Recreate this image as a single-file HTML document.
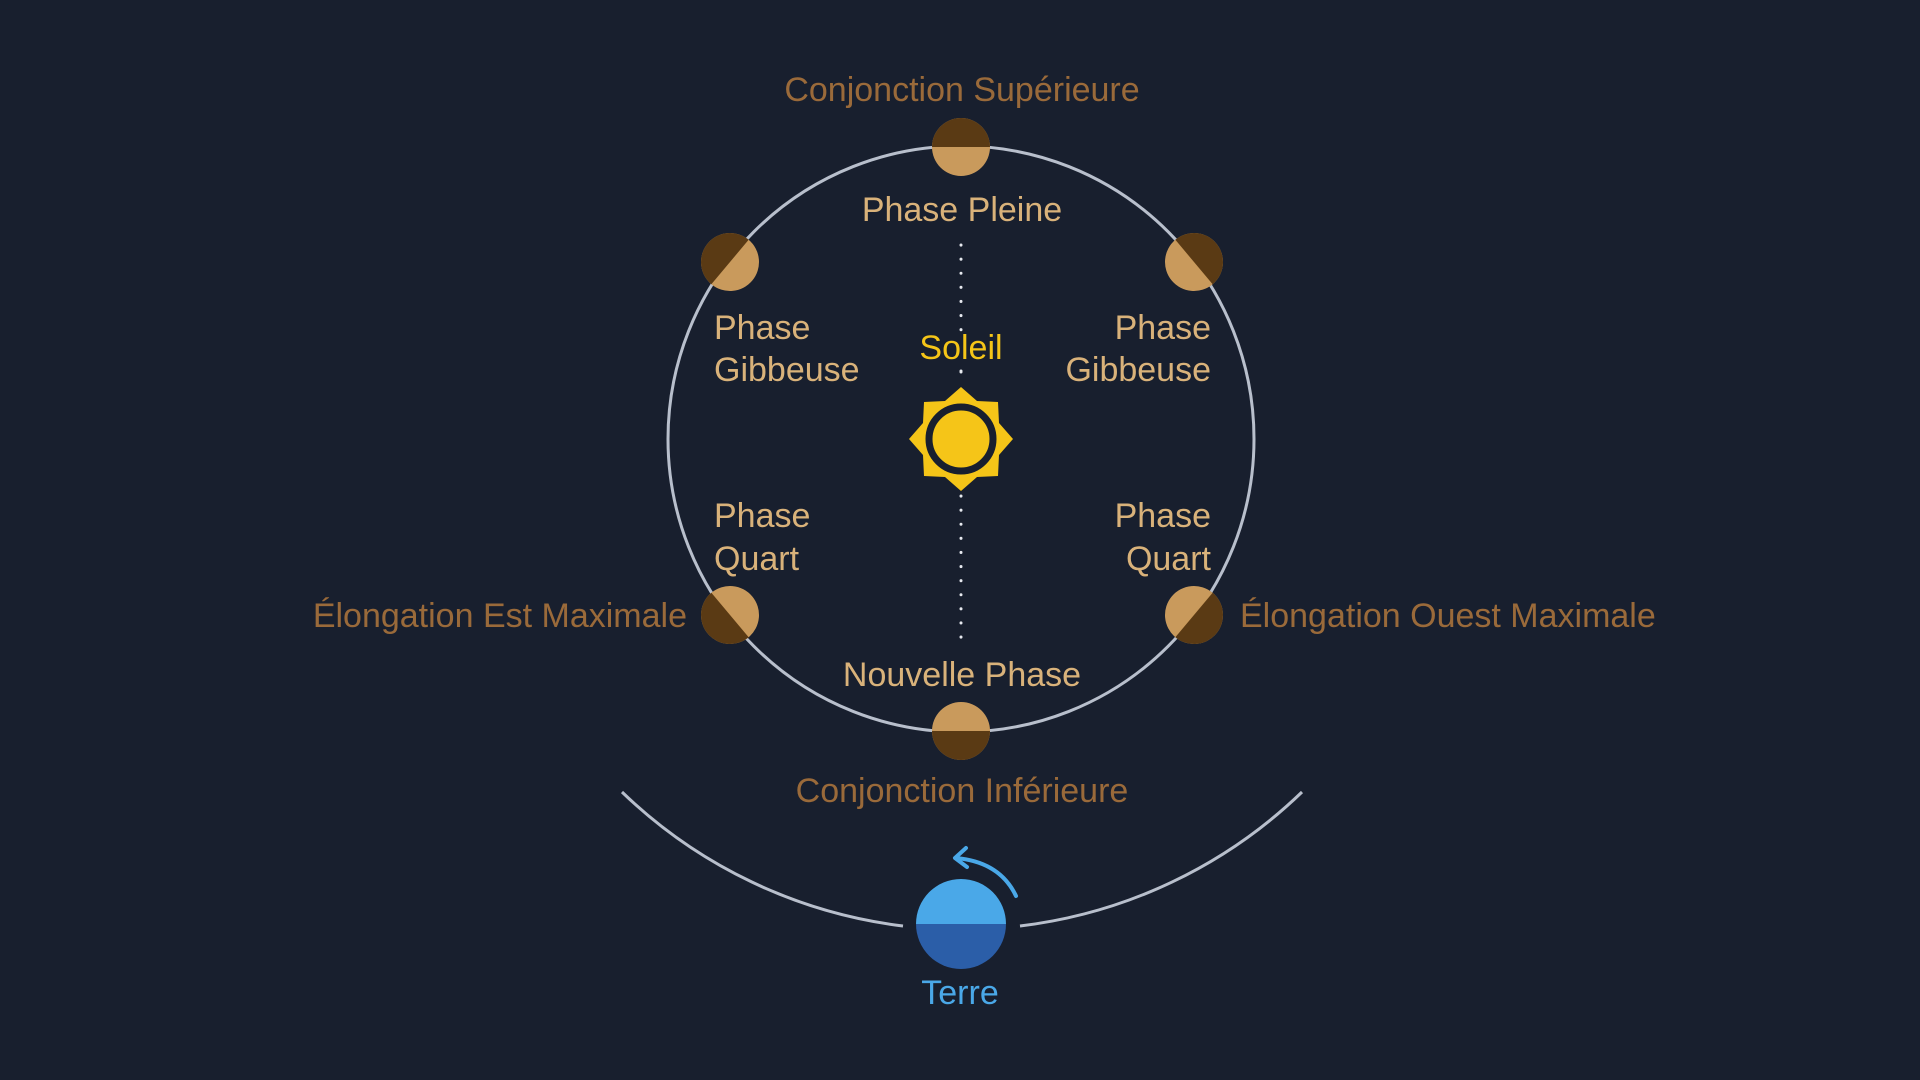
<!DOCTYPE html>
<html><head><meta charset="utf-8"><style>
html,body{margin:0;padding:0;background:#181f2e;}
svg{display:block}
text{font-family:"Liberation Sans",sans-serif;}
</style></head><body>
<svg width="1920" height="1080" viewBox="0 0 1920 1080" xmlns="http://www.w3.org/2000/svg">
<rect width="1920" height="1080" fill="#181f2e"/>
<defs>
<g id="moon"><circle r="29" fill="#c99a5c"/><path d="M-29,0 A29,29 0 0 1 29,0 Z" fill="#5a3a14"/></g>
</defs>
<circle cx="961" cy="439" r="293" fill="none" stroke="#b8bfcc" stroke-width="3"/>
<path d="M622,792 A490,490 0 0 0 903,926" fill="none" stroke="#b8bfcc" stroke-width="3"/>
<path d="M1020,926 A490,490 0 0 0 1302,792" fill="none" stroke="#b8bfcc" stroke-width="3"/>
<line x1="961" y1="245" x2="961" y2="330" stroke="#e6e9ef" stroke-width="3" stroke-dasharray="0.1 14" stroke-linecap="round"/>
<line x1="961" y1="371" x2="961" y2="372" stroke="#e6e9ef" stroke-width="3" stroke-linecap="round"/>
<line x1="961" y1="496" x2="961" y2="645" stroke="#e6e9ef" stroke-width="3" stroke-dasharray="0.1 14" stroke-linecap="round"/>
<use href="#moon" transform="translate(961,147) rotate(0)"/>
<use href="#moon" transform="translate(730,262) rotate(-50)"/>
<use href="#moon" transform="translate(1194,262) rotate(50)"/>
<use href="#moon" transform="translate(730,615) rotate(-130)"/>
<use href="#moon" transform="translate(1194,615) rotate(130)"/>
<use href="#moon" transform="translate(961,731) rotate(180)"/>
<g transform="translate(961,439)">
<polygon fill="#f5c518" points="0,-52 16,-38 37,-37 38,-16 52,0 38,16 37,37 16,38 0,52 -16,38 -37,37 -38,16 -52,0 -38,-16 -37,-37 -16,-38"/>
<circle r="33" fill="#f5c518"/>
<circle r="32" fill="none" stroke="#181f2e" stroke-width="7"/>
</g>
<g transform="translate(961,924)">
<path d="M-45,0 A45,45 0 0 1 45,0 Z" fill="#4aa8e8"/>
<path d="M-45,0 A45,45 0 0 0 45,0 Z" fill="#2b5ea8"/>
</g>
<path d="M1016,896 Q1000,862 956,858" fill="none" stroke="#4aa8e8" stroke-width="4" stroke-linecap="round"/>
<path d="M966,848 L955,858 L967,867" fill="none" stroke="#4aa8e8" stroke-width="4" stroke-linecap="round" stroke-linejoin="round"/>
<g font-size="34" fill="#9a6a3a">
<text x="962" y="101" text-anchor="middle">Conjonction Supérieure</text>
<text x="962" y="802" text-anchor="middle">Conjonction Inférieure</text>
<text x="687" y="627" text-anchor="end">Élongation Est Maximale</text>
<text x="1240" y="627">Élongation Ouest Maximale</text>
</g>
<g font-size="34" fill="#d9b27a">
<text x="962" y="221" text-anchor="middle">Phase Pleine</text>
<text x="962" y="686" text-anchor="middle">Nouvelle Phase</text>
<text x="714" y="339">Phase</text>
<text x="714" y="381">Gibbeuse</text>
<text x="1211" y="339" text-anchor="end">Phase</text>
<text x="1211" y="381" text-anchor="end">Gibbeuse</text>
<text x="714" y="527">Phase</text>
<text x="714" y="570">Quart</text>
<text x="1211" y="527" text-anchor="end">Phase</text>
<text x="1211" y="570" text-anchor="end">Quart</text>
</g>
<text x="961" y="359" text-anchor="middle" font-size="34" fill="#f5c518">Soleil</text>
<text x="960" y="1004" text-anchor="middle" font-size="34" fill="#4aa8e8">Terre</text>
</svg>
</body></html>
